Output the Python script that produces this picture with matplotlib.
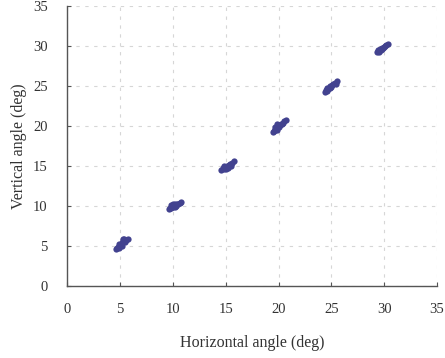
import matplotlib
matplotlib.use("Agg")
import matplotlib.pyplot as plt

# measured points, one list pair per target angle (deg)
x_5 = [4.6, 4.7, 4.8, 4.9, 5.0, 5.1, 5.2, 5.3, 5.4, 5.5, 5.6, 5.8, 5.2, 5.3, 4.9]
y_5 = [4.6, 4.7, 4.9, 4.8, 5.1, 5.2, 5.4, 5.6, 5.9, 5.5, 5.7, 5.9, 5.0, 5.9, 5.3]
x_10 = [9.6, 9.7, 9.8, 9.9, 10.0, 10.1, 10.2, 10.3, 10.4, 10.5, 10.7, 10.8, 10.0, 10.2, 9.8]
y_10 = [9.6, 9.8, 9.7, 10.0, 9.9, 10.1, 10.2, 10.0, 10.3, 10.2, 10.4, 10.5, 10.3, 9.9, 10.1]
x_15 = [14.6, 14.7, 14.8, 14.9, 15.0, 15.1, 15.2, 15.3, 15.4, 15.5, 15.6, 15.8, 15.0, 15.2, 14.8]
y_15 = [14.5, 14.7, 14.6, 14.8, 14.9, 15.0, 14.8, 15.1, 15.2, 15.0, 15.4, 15.6, 14.6, 14.9, 15.0]
x_20 = [19.5, 19.6, 19.7, 19.8, 19.9, 20.0, 20.1, 20.2, 20.4, 20.5, 20.7, 19.7, 19.9, 20.3]
y_20 = [19.2, 19.4, 19.6, 19.8, 19.5, 19.9, 20.1, 20.3, 20.4, 20.6, 20.7, 19.9, 20.2, 20.2]
x_25 = [24.4, 24.5, 24.6, 24.7, 24.8, 24.9, 25.0, 25.1, 25.2, 25.3, 25.5, 24.6, 24.9, 25.4]
y_25 = [24.3, 24.5, 24.4, 24.6, 24.8, 24.7, 24.9, 25.1, 25.2, 25.4, 25.6, 24.8, 25.0, 25.3]
x_30 = [29.3, 29.4, 29.5, 29.6, 29.7, 29.8, 29.9, 30.0, 30.1, 30.2, 30.4, 29.5, 29.8]
y_30 = [29.3, 29.5, 29.4, 29.6, 29.5, 29.7, 29.8, 29.9, 30.0, 30.1, 30.3, 29.2, 29.6]

xs = [x_5, x_10, x_15, x_20, x_25, x_30]
ys = [y_5, y_10, y_15, y_20, y_25, y_30]

ticks = [0, 5, 10, 15, 20, 25, 30, 35]

plt.rcParams['font.family'] = ['Liberation Serif', 'DejaVu Serif']

fig = plt.figure(figsize=(4.45, 3.58), dpi=100)
ax = fig.add_axes([0.151, 0.201, 0.831, 0.782])

for xx, yy in zip(xs, ys):
    ax.plot(xx, yy, linestyle='none', marker='o', markersize=4.5,
            color='#42428f', markeredgewidth=0)

ax.set_xlim(0, 35); ax.set_ylim(0, 35)
ax.set_xticks(ticks); ax.set_yticks(ticks)
ax.grid(True, linestyle=(0, (3, 5)), color='#d6d6d6', linewidth=0.8)
ax.set_axisbelow(True)

for s in ['top', 'right']:
    ax.spines[s].set_visible(False)
for s in ['left', 'bottom']:
    ax.spines[s].set_color('#555555'); ax.spines[s].set_linewidth(1.0)

ax.tick_params(direction='in', length=3, width=0.8, color='#555555',
               labelsize=10.5, labelcolor='#333333')
ax.tick_params(axis='x', pad=12)
ax.tick_params(axis='y', pad=14)

ax.set_xlabel('Horizontal angle (deg)', fontsize=11.5, color='#333333', labelpad=14)
ax.set_ylabel('Vertical angle (deg)', fontsize=11.5, color='#333333', labelpad=4)

fig.savefig('out.png', dpi=100)
